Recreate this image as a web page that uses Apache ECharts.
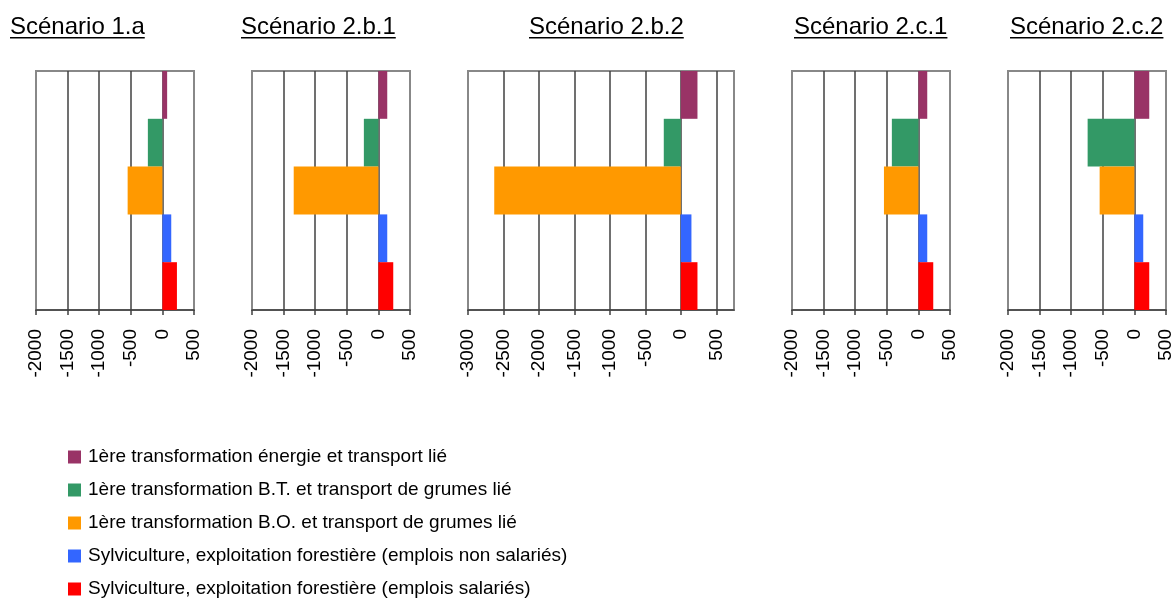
<!DOCTYPE html>
<html>
<head>
<meta charset="utf-8">
<script src="https://cdn.jsdelivr.net/npm/echarts@6/dist/echarts.min.js"></script>
<style>
  html, body { margin: 0; padding: 0; background: #fff; }
  #main { width: 1176px; height: 602px; }
</style>
</head>
<body>
<div id="main"></div>
<script>
const scenarios = ['Scénario 1.a', 'Scénario 2.b.1', 'Scénario 2.b.2', 'Scénario 2.c.1', 'Scénario 2.c.2'];
const seriesNames = [
  '1ère transformation énergie et transport lié',
  '1ère transformation B.T. et transport de grumes lié',
  '1ère transformation B.O. et transport de grumes lié',
  'Sylviculture, exploitation forestière (emplois non salariés)',
  'Sylviculture, exploitation forestière (emplois salariés)'
];
// one value per scenario
const energie = [75, 140, 235, 140, 235];
const bt = [-230, -230, -240, -420, -740];
const bo = [-550, -1340, -2630, -545, -550];
const nonSalaries = [140, 140, 150, 140, 140];
const salaries = [230, 235, 235, 235, 235];
const axisMin = [-2000, -2000, -3000, -2000, -2000];
const axisMax = [500, 500, 750, 500, 500];

const values = [energie, bt, bo, nonSalaries, salaries];
const colors = ['#993366', '#339966', '#FF9900', '#3366FF', '#FF0000'];

// layout of the five panels
const gridLeft = [36, 252, 468, 792, 1008];
const gridWidth = [158, 158, 266, 158, 158];
const titleLeft = [10, 241, 529, 794, 1010];

const FONT = 'Liberation Sans, Arial, sans-serif';
const titleSize = 24;

const ctx = document.createElement('canvas').getContext('2d');
ctx.font = titleSize + 'px Liberation Sans';

const myChart = echarts.init(document.getElementById('main'));

const grids = [], xAxes = [], yAxes = [], titles = [], series = [], graphics = [];
for (let g = 0; g < scenarios.length; g++) {
  grids.push({
    left: gridLeft[g], top: 71, width: gridWidth[g], height: 239,
    show: true, borderColor: '#888', borderWidth: 2, backgroundColor: '#fff'
  });
  xAxes.push({
    type: 'value', gridIndex: g,
    min: axisMin[g], max: axisMax[g], interval: 500,
    axisLine: { show: true, lineStyle: { color: '#404040', width: 1.5 } },
    axisTick: { show: true, length: 5, lineStyle: { color: '#404040', width: 1.5 } },
    axisLabel: {
      rotate: 90, fontSize: 19, color: '#000', fontFamily: FONT, margin: 19,
      showMaxLabel: axisMax[g] % 500 === 0,
      formatter: v => String(v)
    },
    splitLine: { show: true, showMinLine: false, showMaxLine: false, lineStyle: { color: '#404040', width: 1.5 } }
  });
  yAxes.push({
    type: 'category', gridIndex: g, inverse: true,
    data: seriesNames,
    axisLine: { show: false }, axisTick: { show: false }, axisLabel: { show: false },
    splitLine: { show: false }
  });
  titles.push({
    text: scenarios[g], left: titleLeft[g], top: 15, padding: 0,
    textStyle: { fontSize: titleSize, fontWeight: 'normal', color: '#000', fontFamily: FONT }
  });
  const w = ctx.measureText(scenarios[g]).width;
  graphics.push({
    type: 'rect', left: titleLeft[g], top: 37,
    shape: { width: w, height: 1.5 }, style: { fill: '#000' }
  });
  for (let k = 0; k < seriesNames.length; k++) {
    series.push({
      type: 'bar', name: seriesNames[k],
      xAxisIndex: g, yAxisIndex: g, stack: 'panel' + g,
      barWidth: '100%',
      itemStyle: { color: colors[k] },
      data: seriesNames.map((n, j) => (j === k ? values[k][g] : '-'))
    });
  }
}

myChart.setOption({
  animation: false,
  title: titles,
  grid: grids,
  xAxis: xAxes,
  yAxis: yAxes,
  legend: {
    orient: 'vertical', left: 68, top: 447, padding: 0,
    icon: 'rect', itemWidth: 13, itemHeight: 13, itemGap: 13,
    textStyle: { fontSize: 19, color: '#000', fontFamily: FONT, lineHeight: 20, padding: [0, 0, 0, 2] },
    data: seriesNames
  },
  graphic: graphics,
  series: series
});
</script>
</body>
</html>
